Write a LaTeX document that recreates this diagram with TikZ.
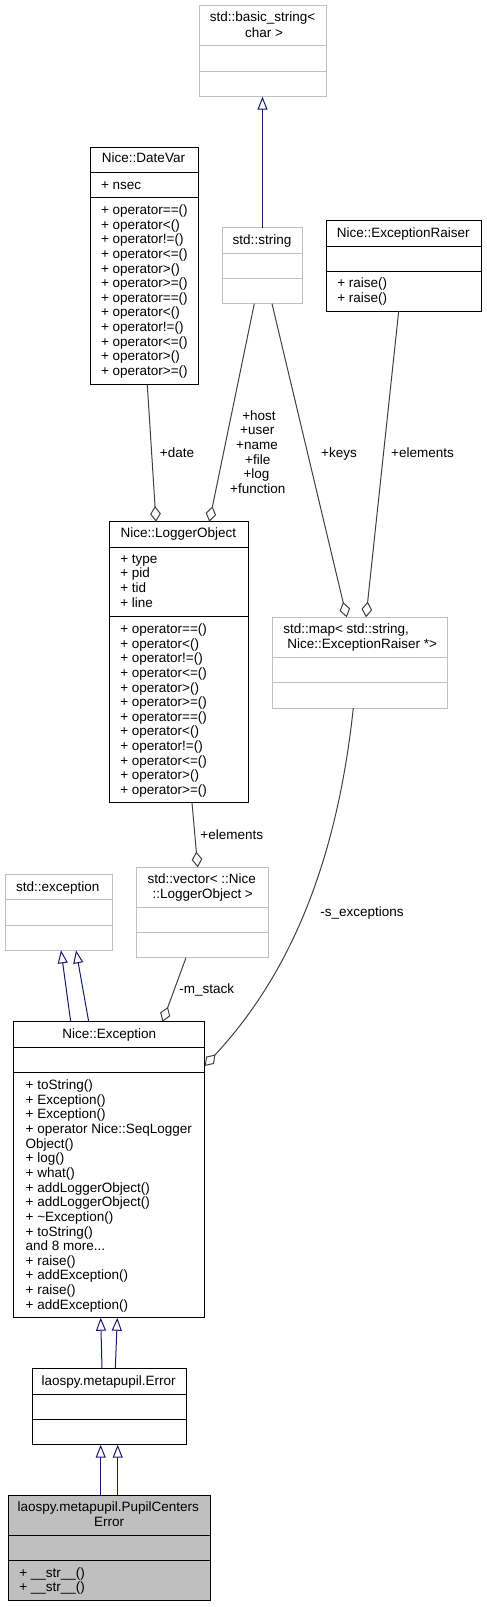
\documentclass[tikz,border=0pt]{standalone}
\usepackage{fontspec}
\setmainfont{Liberation Sans}
\usetikzlibrary{arrows.meta,fit,calc}
\definecolor{boxgray}{HTML}{BFBFBF}
\definecolor{edgegray}{HTML}{404040}
\definecolor{inhblue}{HTML}{191970}
\definecolor{pcefill}{HTML}{BFBFBF}
\newcommand\umlcls[8]{%
  \coordinate (#1-nw) at (#3,#4);
  \coordinate (#1-se) at (#5,#6);
  \node[#2, fit=(#1-nw)(#1-se)] (#1) {};
  \draw[#2] (#3,#7) -- (#5,#7);
  \draw[#2] (#3,#8) -- (#5,#8);
}
\newcommand\umllines[5]{%
  \foreach \t [count=\i] in {#5} {
    \node[anchor=base west] (#1\i) at (#2, {#3+(\i-1)*#4}) {\t};
  }
}
\begin{document}
\begin{tikzpicture}[x=1pt,y=-1pt,
  every node/.style={font=\fontsize{13.5}{14.65}\selectfont, inner sep=0pt, outer sep=0pt},
  blackbox/.style={draw=black, line width=1pt},
  graybox/.style={draw=boxgray, line width=1pt},
  pcebox/.style={draw=black, line width=1pt, fill=pcefill},
  inh/.style={draw=inhblue, line width=1pt, -{Triangle[length=13pt,width=10pt,fill=white]}},
  agg/.style={draw=edgegray, line width=1pt, -{Diamond[length=15.7pt,width=10.7pt,fill=white]}},
  lbl/.style={anchor=base}
]
\useasboundingbox (0,0) rectangle (487,1607);

% ---- classes ----
\umlcls{basic}{graybox}{199}{5.7}{326}{96.7}{45.7}{71}
\node[lbl] (basicT1) at (262.5,21.8) {std::basic\_string<};
\node[lbl] (basicT2) at (264,37.2) {char >};

\umlcls{datevar}{blackbox}{90}{147}{198}{384.7}{172.3}{197.7}
\node[lbl] (datevarT) at (143.5,162.8) {Nice::DateVar};
\node[anchor=base west] (datevarA) at (101,189.5) {+ nsec};
\umllines{dvm}{101}{214.5}{14.64}{+ operator==(),+ operator<(),+ operator!=(),+ operator<=(),+ operator>(),+ operator>=(),+ operator==(),+ operator<(),+ operator!=(),+ operator<=(),+ operator>(),+ operator>=()}

\umlcls{string}{graybox}{222.3}{227.7}{302.7}{303.7}{253.3}{278.7}
\node[lbl] (stringT) at (262,244.2) {std::string};

\umlcls{raiser}{blackbox}{326.3}{220.3}{481.3}{311}{246}{271.3}
\node[lbl] (raiserT) at (403.3,237.2) {Nice::ExceptionRaiser};
\umllines{rm}{337.3}{287.2}{15}{+ raise(),+ raise()}

\umlcls{logger}{blackbox}{109.3}{521.7}{248}{802.7}{547}{616.3}
\node[lbl] (loggerT) at (178.3,537.8) {Nice::LoggerObject};
\umllines{loa}{120.3}{563.2}{14.65}{+ type,+ pid,+ tid,+ line}
\umllines{lom}{120.3}{633.5}{14.64}{+ operator==(),+ operator<(),+ operator!=(),+ operator<=(),+ operator>(),+ operator>=(),+ operator==(),+ operator<(),+ operator!=(),+ operator<=(),+ operator>(),+ operator>=()}

\umlcls{map}{graybox}{272.7}{617.3}{447.3}{708}{657.3}{682.7}
\node[anchor=base west] (mapT1) at (283.3,633.2) {std::map< std::string,};
\node[anchor=base west] (mapT2) at (287.3,648.2) {Nice::ExceptionRaiser *>};

\umlcls{vector}{graybox}{136.7}{867.3}{268.7}{957.7}{907.3}{932.7}
\node[lbl] (vectorT1) at (201.8,883.5) {std::vector< ::Nice};
\node[lbl] (vectorT2) at (202.8,898.5) {::LoggerObject >};

\umlcls{stdexc}{graybox}{5}{874.7}{112}{950.3}{899.3}{925.3}
\node[lbl] (stdexcT) at (57.8,891.2) {std::exception};

\umlcls{exception}{blackbox}{13.7}{1021.7}{204.7}{1317.7}{1047}{1072.7}
\node[lbl] (exceptionT) at (109.3,1038.2) {Nice::Exception};
\umllines{exm}{25.7}{1089.5}{14.65}{+ toString(),+ Exception(),+ Exception(),+ operator Nice::SeqLogger,Object(),+ log(),+ what(),+ addLoggerObject(),+ addLoggerObject(),+ \textasciitilde Exception(),+ toString(),{and 8 more.{}.{}.},+ raise(),+ addException(),+ raise(),+ addException()}

\umlcls{error}{blackbox}{32.3}{1368.7}{186}{1444.7}{1394}{1419.3}
\node[lbl] (errorT) at (108.7,1385.2) {laospy.metapupil.Error};

\umlcls{pce}{pcebox}{8.3}{1495}{210}{1600.3}{1535}{1560.3}
\node[lbl] (pceT1) at (108.3,1511.2) {laospy.metapupil.PupilCenters};
\node[lbl] (pceT2) at (109.2,1526.2) {Error};
\umllines{pcem}{19.3}{1577.2}{14.4}{+ \_\_str\_\_(),+ \_\_str\_\_()}

% ---- inheritance ----
\draw[inh] (string.north) -- (basic.south);
\draw[inh] ([xshift=-38.5pt]exception.north) -- ([xshift=2.5pt]stdexc.south);
\draw[inh] ([xshift=-20.5pt]exception.north) -- ([xshift=17.5pt]stdexc.south);
\draw[inh] ([xshift=-7.15pt]error.north) -- ([xshift=-8.5pt]exception.south);
\draw[inh] ([xshift=6.15pt]error.north) -- ([xshift=8.1pt]exception.south);
\draw[inh] ([xshift=-8.45pt]pce.north) -- ([xshift=-8.45pt]error.south);
\draw[inh] ([xshift=8.55pt]pce.north) -- ([xshift=8.55pt]error.south);

% ---- aggregation ----
\draw[agg] ([xshift=3.3pt]datevar.south) -- ([xshift=-22.65pt]logger.north);
\draw[agg] ([xshift=-8.2pt]string.south) -- ([xshift=30.65pt]logger.north);
\draw[agg] ([xshift=9.5pt]string.south) -- ([xshift=-13.3pt]map.north);
\draw[agg] ([xshift=-5.1pt]raiser.south) -- ([xshift=6pt]map.north);
\draw[agg] ([xshift=13.35pt]logger.south) -- ([xshift=-5pt]vector.north);
\draw[agg] ([xshift=-16.7pt]vector.south) -- ([xshift=53.3pt]exception.north);
\draw[agg] ([xshift=-6.7pt]map.south) .. controls (335,880) and (280,985) .. ([yshift=103.7pt]exception.east);

% ---- edge labels ----
\node[lbl] (ldate) at (177,457.2) {+date};
\node[lbl] (lhost) at (259,420.2) {+host};
\node[lbl] (luser) at (257.3,434.8) {+user};
\node[lbl] (lname) at (257,449.4) {+name};
\node[lbl] (lfile) at (257.7,464) {+file};
\node[lbl] (llog) at (256.5,478.6) {+log};
\node[lbl] (lfunc) at (257.8,493.2) {+function};
\node[lbl] (lkeys) at (339,457.2) {+keys};
\node[lbl] (lelem1) at (422.5,457.2) {+elements};
\node[lbl] (lelem2) at (231.7,839.2) {+elements};
\node[lbl] (lmstack) at (206.8,993.2) {-m\_stack};
\node[lbl] (lsexc) at (362,916.2) {-s\_exceptions};
\end{tikzpicture}
\end{document}
